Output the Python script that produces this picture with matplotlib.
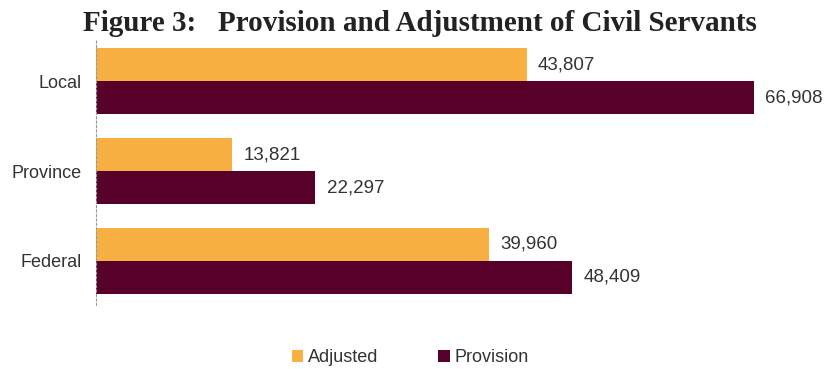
import matplotlib
matplotlib.use("Agg")
import matplotlib.pyplot as plt
import numpy as np

categories = ["Federal", "Province", "Local"]
adjusted = [39960, 13821, 43807]
provision = [48409, 22297, 66908]
series_names = ["Adjusted", "Provision"]
colors = ["#F9B043", "#57002A"]

fig = plt.figure(figsize=(8.26, 3.69), dpi=100)
ax = fig.add_axes([96 / 826, 1 - 305 / 369, (800 - 96) / 826, 265 / 369])

y = np.arange(len(categories))
h = 0.3667
b1 = ax.barh(y + h / 2, adjusted, height=h, color=colors[0], label=series_names[0])
b2 = ax.barh(y - h / 2, provision, height=h, color=colors[1], label=series_names[1])

for bars, vals in ((b1, adjusted), (b2, provision)):
    for bar, v in zip(bars, vals):
        ax.text(v + 1150, bar.get_y() + bar.get_height() / 2, f"{v:,}",
                va="center", ha="left", fontsize=13.5, color="#333333",
                family="Liberation Sans")

ax.set_xlim(0, 71600)
ax.set_ylim(-0.489, 2.456)
ax.set_yticks(y)
ax.set_yticklabels(categories, fontsize=13, color="#333333", family="Liberation Sans")
ax.tick_params(axis="y", length=0, pad=10)
ax.set_xticks([])
for s in ("top", "right", "bottom"):
    ax.spines[s].set_visible(False)
ax.spines["left"].set_linestyle((0, (2, 2)))
ax.spines["left"].set_color("#999999")
ax.spines["left"].set_linewidth(0.8)

fig.text(0.508, 0.935, "Figure 3:   Provision and Adjustment of Civil Servants",
         ha="center", va="center", fontsize=21, fontweight="bold",
         family="Liberation Serif", color="#222222")

leg = fig.legend(handles=[b1, b2], labels=series_names, loc="center",
                 bbox_to_anchor=(0.497, 0.03), ncol=2, frameon=False,
                 handlelength=0.62, handleheight=0.62,
                 columnspacing=3.3, handletextpad=0.28, borderpad=0.2,
                 prop={"family": "Liberation Sans", "size": 13})
for t in leg.get_texts():
    t.set_color("#333333")

fig.savefig("out.png", dpi=100)
